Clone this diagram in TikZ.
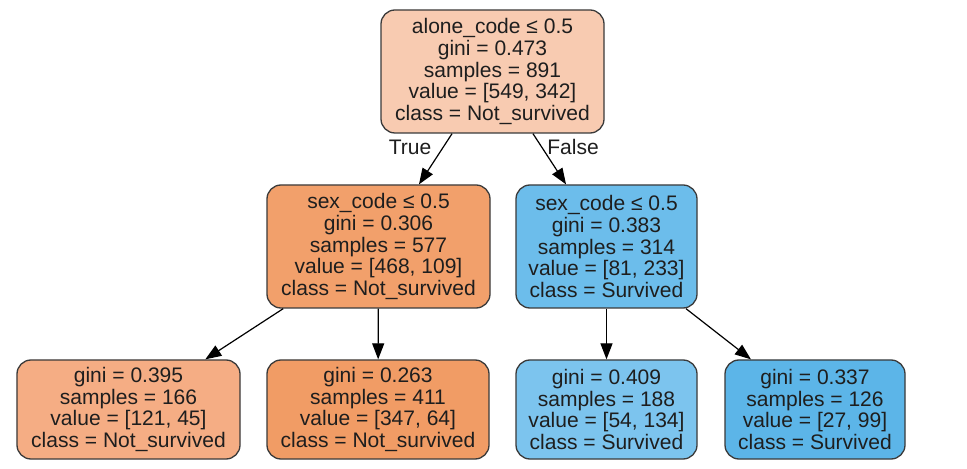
\documentclass[tikz,border=0pt]{standalone}
\usepackage{fontspec}
\setmainfont{Liberation Sans}
\usetikzlibrary{arrows.meta}
\definecolor{edgegray}{HTML}{3A3A3A}
\definecolor{txt}{HTML}{1E1E1E}
\definecolor{cRoot}{HTML}{F8CBB1}
\definecolor{cMidL}{HTML}{F2A06B}
\definecolor{cMidR}{HTML}{6CBDEB}
\definecolor{cLeafA}{HTML}{F5AD84}
\definecolor{cLeafB}{HTML}{F19C65}
\definecolor{cLeafC}{HTML}{7CC4EE}
\definecolor{cLeafD}{HTML}{5CB5E8}
\begin{document}
\begin{tikzpicture}[x=1bp,y=-1bp,
  treenode/.style={draw=edgegray, line width=1.3bp, rounded corners=14bp, align=center,
    inner sep=0pt, text=txt, font=\fontsize{21.1}{21.9}\selectfont},
  split/.style={treenode, minimum height=123bp},
  leaf/.style={treenode, minimum height=99bp},
  link/.style={draw=black, line width=1.2bp, -{Triangle[length=16bp,width=12bp]}},
  edgelabel/.style={text=txt, font=\fontsize{21.1}{21.9}\selectfont, inner sep=0pt}]
\fill[white] (0,0) rectangle (967,469);
\useasboundingbox (0,0) rectangle (967,469);

\node[split, minimum width=223bp, fill=cRoot] (root) at (492.5,71.5)
  {alone\_code ≤ 0.5\\gini = 0.473\\samples = 891\\value = [549, 342]\\class = Not\_survived};
\node[split, minimum width=223bp, fill=cMidL] (midL) at (378.5,246.5)
  {sex\_code ≤ 0.5\\gini = 0.306\\samples = 577\\value = [468, 109]\\class = Not\_survived};
\node[split, minimum width=181bp, fill=cMidR] (midR) at (606.5,246.5)
  {sex\_code ≤ 0.5\\gini = 0.383\\samples = 314\\value = [81, 233]\\class = Survived};

\node[leaf, minimum width=223bp, fill=cLeafA] (leafA) at (128.5,409.5)
  {gini = 0.395\\samples = 166\\value = [121, 45]\\class = Not\_survived};
\node[leaf, minimum width=222bp, fill=cLeafB] (leafB) at (378,409.5)
  {gini = 0.263\\samples = 411\\value = [347, 64]\\class = Not\_survived};
\node[leaf, minimum width=181bp, fill=cLeafC] (leafC) at (606.5,409.5)
  {gini = 0.409\\samples = 188\\value = [54, 134]\\class = Survived};
\node[leaf, minimum width=180bp, fill=cLeafD] (leafD) at (815,409.5)
  {gini = 0.337\\samples = 126\\value = [27, 99]\\class = Survived};

\draw[link] (root) -- (midL);
\draw[link] (root) -- (midR);
\draw[link] (midL) -- (leafA);
\draw[link] (midL) -- (leafB);
\draw[link] (midR) -- (leafC);
\draw[link] (midR) -- (leafD);

\node[edgelabel] (lblTrue) at (410,147) {True};
\node[edgelabel] (lblFalse) at (573,147) {False};
\end{tikzpicture}
\end{document}
